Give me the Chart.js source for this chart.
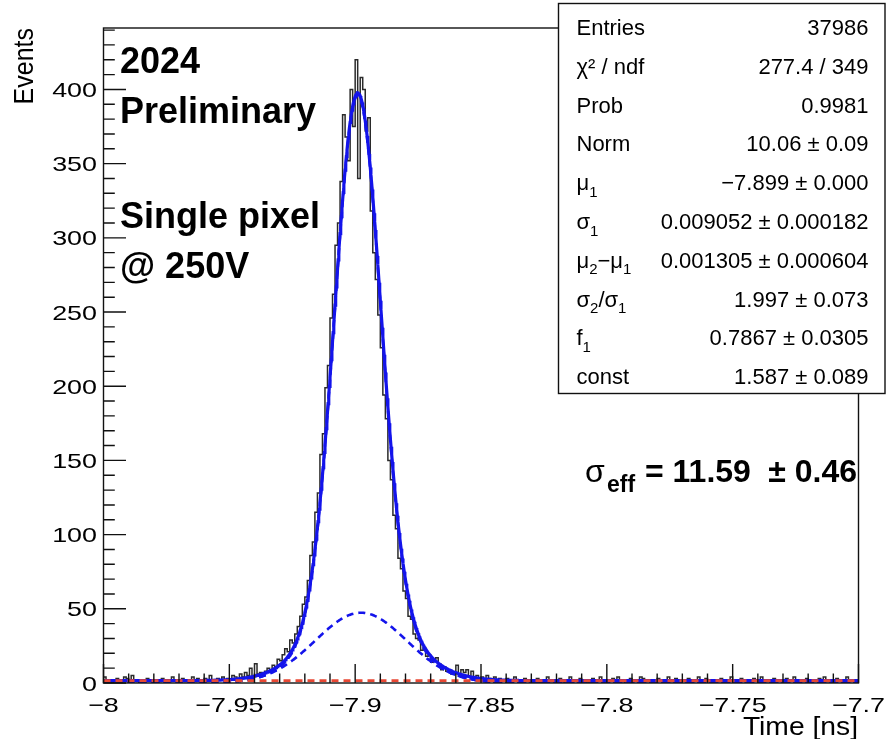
<!DOCTYPE html>
<html>
<head>
<meta charset="utf-8">
<script src="https://cdn.jsdelivr.net/npm/chart.js@4.4.1/dist/chart.umd.min.js"></script>
<style>
  html, body { margin: 0; padding: 0; background: #fff; }
  #wrap { width: 887px; height: 739px; position: relative; }
</style>
</head>
<body>
<div id="wrap"><canvas id="c" width="887" height="739"></canvas></div>
<script>
// Histogram range and binning (ns)
const histLow = -8;
const histHigh = -7.7;
const binWidth = 0.001;

// Events per 0.001 ns bin, from -8 ns upward
const binCounts = [
  2,4,1,2,0,1,3,1,2,4, 3,1,5,2,1,0,2,1,3,2, 1,2,0,1,3,2,1,1,4,2, 2,0,3,1,2,2,4,1,3,1, 2,3,1,5,2,1,3,2,4,2,
  3,2,5,4,3,6,4,7,5, 10,4,13,6, 7,5,8,10,9,12,10,
  16,15,19,23,21,29,27,33,38,45,
  53,58,69,86,95,115,128,154,168,199,
  214,246,262,295,310,338,383,368,352,400,
  375,420,340,408,400,372,381,318,290,272,
  248,226,194,178,150,137,113,104,84,77,
  62,57,45,43,33,30,29,22,24,18,
  19,14,15,17,13,9,11,8,9,6,
  7,12,5,9,7,9,4,8,3,5,
  3,4,2,5,3,2,4,1,3,2,
  2,3,1,2,4,2,1,0,3,2,1,2,1,3,0,2,1,4,2,1,
  1,2,3,1,0,2,4,1,2,1,3,2,1,0,2,3,1,2,4,1,
  2,1,2,3,1,4,2,1,0,2,3,1,2,1,4,3,1,2,0,2,
  1,3,2,1,2,4,1,2,3,0,1,2,1,3,2,1,2,4,1,2,
  3,1,2,0,2,1,3,2,1,2,4,1,2,1,3,2,0,2,1,3,
  2,1,4,2,1,2,0,3,1,2,1,2,3,1,2,4,1,0,2,1,
  3,2,1,2,1,3,2,4,1,2,1,0,3,2,1,2,4,1,2,1
];

// Axis ranges, tick steps and titles
const yTop = 441.4;
const xTickStep = 0.05;
const yTickStep = 50;
const xTitle = 'Time [ns]';
const yTitle = 'Events';

// Double-Gaussian + constant fit parameters
const fitNorm = 10.06;
const fitMu1 = -7.899;
const fitSigma1 = 0.009052;
const fitDeltaMu = 0.001305;
const fitSigmaRatio = 1.997;
const fitFrac1 = 0.7867;
const fitConst = 1.587;

// Fit statistics panel
const statNames = ['Entries', 'χ² / ndf', 'Prob', 'Norm', 'μ_1', 'σ_1', 'μ_2−μ_1', 'σ_2/σ_1', 'f_1', 'const'];
const statValues = ['37986', '277.4 / 349', '0.9981', '10.06 ± 0.09', '−7.899 ± 0.000',
  '0.009052 ± 0.000182', '0.001305 ± 0.000604', '1.997 ± 0.073', '0.7867 ± 0.0305', '1.587 ± 0.089'];

// Labels on the pad
const padLabels = ['2024', 'Preliminary', 'Single pixel', '@ 250V'];
const sigmaEffValue = '11.59';
const sigmaEffError = '0.46';

// ---- derived series ----
function gauss(x, m, s) {
  const z = (x - m) / s;
  return Math.exp(-0.5 * z * z) / (s * Math.sqrt(2 * Math.PI));
}
const fitMu2 = fitMu1 + fitDeltaMu;
const fitSigma2 = fitSigma1 * fitSigmaRatio;
const narrowPart = x => fitNorm * fitFrac1 * gauss(x, fitMu1, fitSigma1);
const widePart = x => fitNorm * (1 - fitFrac1) * gauss(x, fitMu2, fitSigma2);

const histPoints = binCounts.map((v, i) => ({ x: histLow + i * binWidth, y: v }));
histPoints.push({ x: histHigh, y: binCounts[binCounts.length - 1] });

const curveX = [];
for (let k = 0; k <= 1200; k++) curveX.push(histLow + k * (histHigh - histLow) / 1200);
const totalFit = curveX.map(x => ({ x, y: narrowPart(x) + widePart(x) + fitConst }));
const signalFit = curveX.map(x => ({ x, y: narrowPart(x) + widePart(x) }));
const wideFit = curveX.map(x => ({ x, y: widePart(x) }));
const constFit = [{ x: histLow, y: fitConst }, { x: histHigh, y: fitConst }];

const SANS = '"Liberation Sans", Arial, Helvetica, sans-serif';
const BLUE = 'rgb(20,20,235)';

function fmtNum(v) {
  const r = Math.round(v * 100) / 100;
  if (Math.abs(r) < 1e-9) return '0';
  return (r < 0 ? '\u2212' : '') + String(Math.abs(r));
}

// Text widened horizontally, as the axis labels are set
function wideText(ctx, t, x, y, sx, align) {
  ctx.save();
  ctx.translate(x, y);
  ctx.scale(sx, 1);
  ctx.textAlign = align;
  ctx.textBaseline = 'alphabetic';
  ctx.fillText(t, 0, 0);
  ctx.restore();
}

// Frame, inward-pointing ticks, tick labels and axis titles, ROOT style
const axesPlugin = {
  id: 'rootAxes',
  afterDatasetsDraw(chart) {
    const { ctx, chartArea: a, scales: { x, y } } = chart;
    ctx.save();
    ctx.strokeStyle = '#111';
    ctx.lineWidth = 1.4;
    ctx.strokeRect(a.left, a.top, a.right - a.left, a.bottom - a.top);
    ctx.beginPath();
    const nx = Math.round((histHigh - histLow) / 0.01);
    for (let k = 0; k <= nx; k++) {
      const px = x.getPixelForValue(histLow + k * 0.01);
      const len = k % 5 === 0 ? 19 : 9.5;
      ctx.moveTo(px, a.bottom);
      ctx.lineTo(px, a.bottom - len);
    }
    for (let v = 0; v <= yTop; v += 10) {
      const py = y.getPixelForValue(v);
      const len = v % 50 === 0 ? 22.5 : 11.3;
      ctx.moveTo(a.left, py);
      ctx.lineTo(a.left + len, py);
    }
    ctx.stroke();

    ctx.fillStyle = '#000';
    ctx.font = `21px ${SANS}`;
    x.ticks.forEach(t => wideText(ctx, fmtNum(t.value), x.getPixelForValue(t.value), 711.5, 1.28, 'center'));
    y.ticks.forEach(t => wideText(ctx, fmtNum(t.value), 97, y.getPixelForValue(t.value) + 7.5, 1.28, 'right'));

    ctx.font = `25px ${SANS}`;
    wideText(ctx, xTitle, 858, 735, 1.13, 'right');

    ctx.save();
    ctx.translate(33, 28);
    ctx.rotate(-Math.PI / 2);
    ctx.scale(1, 1.1);
    ctx.font = `25px ${SANS}`;
    ctx.textAlign = 'right';
    ctx.textBaseline = 'alphabetic';
    ctx.fillText(yTitle, 0, 0);
    ctx.restore();
    ctx.restore();
  }
};

// Draw text made of normal and subscript pieces; '_X' marks X as subscript
function drawRich(ctx, str, x, yb, size, weight, align) {
  const parts = [];
  for (let i = 0; i < str.length; i++) {
    if (str[i] === '_' && i + 1 < str.length) { parts.push({ t: str[i + 1], sub: true }); i++; }
    else parts.push({ t: str[i], sub: false });
  }
  const fontOf = p => `${weight} ${p.sub ? Math.round(size * 0.68) : size}px ${SANS}`;
  let w = 0;
  parts.forEach(p => { ctx.font = fontOf(p); p.w = ctx.measureText(p.t).width; w += p.w; });
  let cx = align === 'right' ? x - w : x;
  ctx.textAlign = 'left';
  ctx.textBaseline = 'alphabetic';
  parts.forEach(p => {
    ctx.font = fontOf(p);
    ctx.fillText(p.t, cx, p.sub ? yb + size * 0.3 : yb);
    cx += p.w;
  });
}

const annotatePlugin = {
  id: 'annotate',
  afterDraw(chart) {
    const ctx = chart.ctx;
    ctx.save();
    ctx.fillStyle = '#000';
    ctx.textAlign = 'left';
    ctx.textBaseline = 'alphabetic';

    // Pad labels
    ctx.font = `bold 36px ${SANS}`;
    const labelBase = [73, 123, 228, 278];
    padLabels.forEach((t, i) => ctx.fillText(t, 120, labelBase[i]));

    // sigma_eff result
    const yb = 482;
    ctx.font = `32px ${SANS}`;
    ctx.fillText('σ', 585, yb);
    ctx.font = `bold 23px ${SANS}`;
    ctx.fillText('eff', 607, yb + 10);
    ctx.font = `bold 32px ${SANS}`;
    ctx.fillText('= ' + sigmaEffValue, 645, yb);
    ctx.textAlign = 'right';
    ctx.fillText('± ' + sigmaEffError, 857, yb);
    ctx.textAlign = 'left';

    // Statistics panel
    const bx = 558.5, by = 3.5, bw = 326.5, bh = 390;
    ctx.fillStyle = '#fff';
    ctx.fillRect(bx, by, bw, bh);
    ctx.strokeStyle = '#111';
    ctx.lineWidth = 1.4;
    ctx.strokeRect(bx, by, bw, bh);
    ctx.fillStyle = '#000';
    statNames.forEach((n, i) => {
      const base = 35 + i * 38.8;
      drawRich(ctx, n, 576.5, base, 22, 'normal', 'left');
      drawRich(ctx, statValues[i], 868.5, base, 22, 'normal', 'right');
    });
    ctx.restore();
  }
};

new Chart(document.getElementById('c').getContext('2d'), {
  type: 'line',
  data: {
    datasets: [
      { label: 'constant', data: constFit, borderColor: 'rgb(232,72,52)', borderWidth: 2.6, borderDash: [7, 5], pointRadius: 0, tension: 0 },
      { label: 'wide Gaussian', data: wideFit, borderColor: BLUE, borderWidth: 2.6, borderDash: [7, 5], pointRadius: 0, tension: 0 },
      { label: 'signal', data: signalFit, borderColor: BLUE, borderWidth: 2.6, borderDash: [7, 5], pointRadius: 0, tension: 0 },
      { label: 'fit', data: totalFit, borderColor: BLUE, borderWidth: 3.2, pointRadius: 0, tension: 0 },
      { label: 'Events', data: histPoints, stepped: 'after', borderColor: '#2a2a2a', borderWidth: 1.5, pointRadius: 0 }
    ]
  },
  options: {
    responsive: false,
    animation: false,
    devicePixelRatio: 1,
    events: [],
    layout: { padding: { top: 28, right: 28.5, left: 0, bottom: 0 } },
    plugins: { legend: { display: false }, tooltip: { enabled: false } },
    scales: {
      x: {
        type: 'linear', min: histLow, max: histHigh,
        grid: { display: false }, border: { display: false },
        ticks: { display: false, stepSize: xTickStep, includeBounds: false, autoSkip: false, maxRotation: 0 },
        title: { display: false },
        afterFit: s => { s.height = 56; }
      },
      y: {
        type: 'linear', min: 0, max: yTop,
        grid: { display: false }, border: { display: false },
        ticks: { display: false, stepSize: yTickStep, includeBounds: false },
        title: { display: false },
        afterFit: s => { s.width = 103.5; }
      }
    }
  },
  plugins: [axesPlugin, annotatePlugin]
});
</script>
</body>
</html>
